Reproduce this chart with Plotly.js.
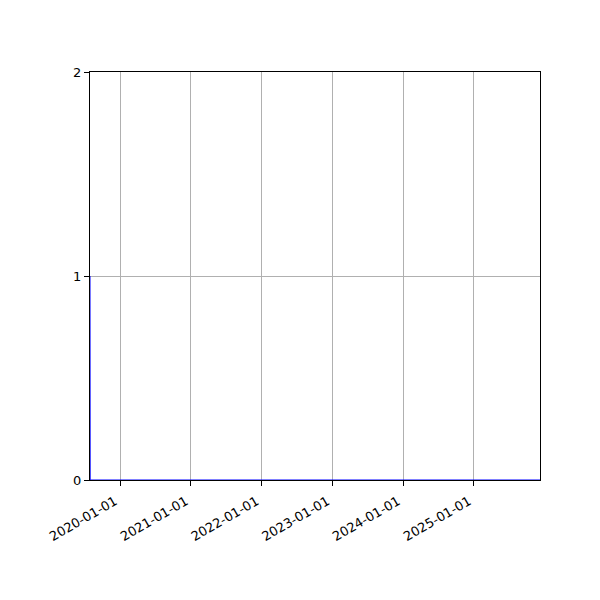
<!DOCTYPE html>
<html>
<head>
<meta charset="utf-8">
<script src="https://cdn.plot.ly/plotly-3.0.1.min.js"></script>
<style>
  body { margin: 0; background: #fff; }
  #chart { width: 600px; height: 600px; }
</style>
</head>
<body>
<div id="chart"></div>
<script>
// series: one at the very start, then flat zero
const dates = ["2019-07-30", "2019-07-31", "2025-12-08"];
const values = [1, 0, 0];
const tickDates = ["2020-01-01", "2021-01-01", "2022-01-01", "2023-01-01", "2024-01-01", "2025-01-01"];
const yTicks = [0, 1, 2];

let trace = {
    x: dates,
    y: values,
    type: "scatter",
    mode: "lines",
    line: { color: "blue", width: 1 },
    hoverinfo: "none",
};

let layout = {
    width: 600,
    height: 600,
    margin: { l: 90, r: 60, t: 72, b: 120, pad: 0 },
    paper_bgcolor: "#fff",
    plot_bgcolor: "#fff",
    showlegend: false,
    font: { family: "DejaVu Sans", size: 13, color: "#000" },
    xaxis: {
        type: "date",
        range: [dates[0], dates[dates.length - 1]],
        tickmode: "array",
        tickvals: tickDates,
        ticktext: tickDates,
        tickangle: -30,
        ticklabelshift: -5,
        ticklabelstandoff: 3,
        ticks: "outside",
        ticklen: 5,
        tickcolor: "#000",
        showgrid: true,
        gridcolor: "#b0b0b0",
        gridwidth: 1,
        showline: true,
        linecolor: "#000",
        linewidth: 1,
        mirror: true,
        zeroline: false,
    },
    yaxis: {
        range: [0, 2],
        tickmode: "array",
        tickvals: yTicks,
        ticks: "outside",
        ticklen: 5,
        tickcolor: "#000",
        showgrid: true,
        gridcolor: "#b0b0b0",
        gridwidth: 1,
        showline: true,
        linecolor: "#000",
        linewidth: 1,
        mirror: true,
        zeroline: false,
    },
};

Plotly.newPlot("chart", [trace], layout, { displayModeBar: false, staticPlot: true });
</script>
</body>
</html>
